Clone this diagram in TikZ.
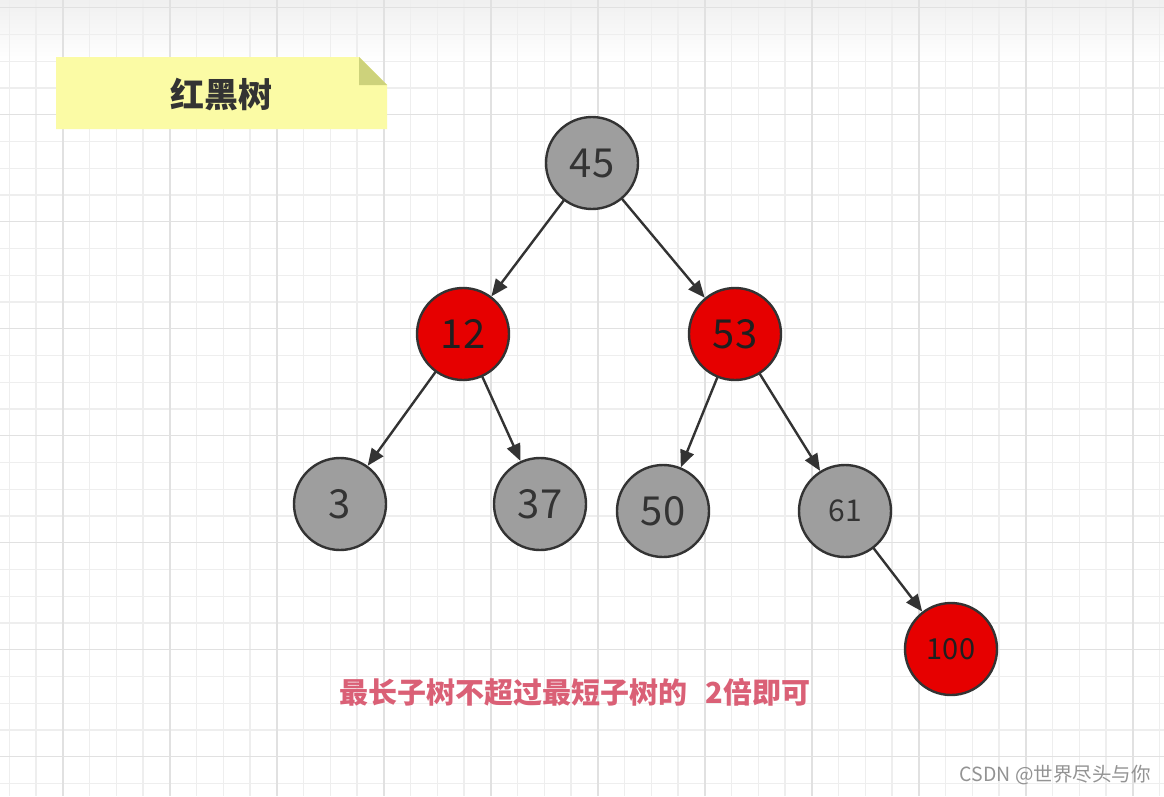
\documentclass[tikz,border=0pt]{standalone}
\usepackage{fontspec}
\setmainfont{Noto Sans CJK SC}
\usetikzlibrary{arrows.meta}
\definecolor{nodegray}{HTML}{9E9E9E}
\definecolor{nodered}{HTML}{E60000}
\definecolor{edgec}{HTML}{333333}
\definecolor{notey}{HTML}{FBFBA5}
\definecolor{notefold}{HTML}{CDD27B}
\definecolor{hint}{HTML}{DA6076}
\definecolor{gridmin}{HTML}{EEEEEE}
\definecolor{gridmaj}{HTML}{E1E1E1}
\newcommand{\numfont}[1]{\fontsize{#1}{#1}\selectfont}

\begin{document}
\begin{tikzpicture}[x=1pt,y=-1pt,
  rbnode/.style={circle,draw=edgec,line width=2.4pt,minimum size=92pt,inner sep=0pt,font=\numfont{40}},
  blknode/.style={rbnode,fill=nodegray,text=edgec},
  rednode/.style={rbnode,fill=nodered,text=black!88},
  link/.style={-{Triangle[length=17pt,width=14pt]},line width=2.4pt,draw=edgec,shorten <=-1pt}]
  \useasboundingbox (0,0) rectangle (1164,796);
  \fill[white] (0,0) rectangle (1164,796);
  \shade[top color=gray!12,bottom color=white] (0,0) rectangle (1164,62);
  % grid
  \foreach \k in {0,...,43} \draw[gridmin,line width=1.2pt] ({9.3+26.75*\k},0) -- ++(0,796);
  \foreach \k in {0,...,29} \draw[gridmin,line width=1.2pt] (0,{7.7+26.75*\k}) -- ++(1164,0);
  \foreach \k in {0,...,10} \draw[gridmaj,line width=1.4pt] ({62.8+107*\k},0) -- ++(0,796);
  \foreach \k in {0,...,7} \draw[gridmaj,line width=1.4pt] (0,{7.7+107*\k}) -- ++(1164,0);
  % note
  \fill[notey] (56,57) -- (359,57) -- (387,85) -- (387,129) -- (56,129) -- cycle;
  \fill[notefold] (359,57) -- (359,85) -- (387,85) -- cycle;
  \node[font=\numfont{34}\bfseries,text=edgec] (title) at (221,95) {红黑树};
  % tree
  \node[blknode] (n45) at (592,163) {45};
  \node[rednode] (n12) at (463,334) {12};
  \node[rednode] (n53) at (735,334) {53};
  \node[blknode] (n3) at (340,504) {3};
  \node[blknode] (n37) at (540,504) {37};
  \node[blknode] (n50) at (663,511) {50};
  \node[blknode,font=\numfont{30}] (n61) at (845,511) {61};
  \node[rednode,font=\numfont{29}] (n100) at (951,649) {100};
  \draw[link] (n45) -- (n12);
  \draw[link] (n45) -- (n53);
  \draw[link] (n12) -- (n3);
  \draw[link] (n12) -- (n37);
  \draw[link] (n53) -- (n50);
  \draw[link] (n53) -- (n61);
  \draw[link] (n61) -- (n100);
  % notes
  \node[font=\numfont{29}\bfseries,text=hint,inner sep=0pt] (rule) at (575,692) {最长子树不超过最短子树的\hspace{0.6em}2倍即可};
  \node[font=\numfont{19.5},text=gray!85,anchor=east,inner sep=0pt] (mark) at (1151,775) {CSDN @世界尽头与你};
\end{tikzpicture}
\end{document}
